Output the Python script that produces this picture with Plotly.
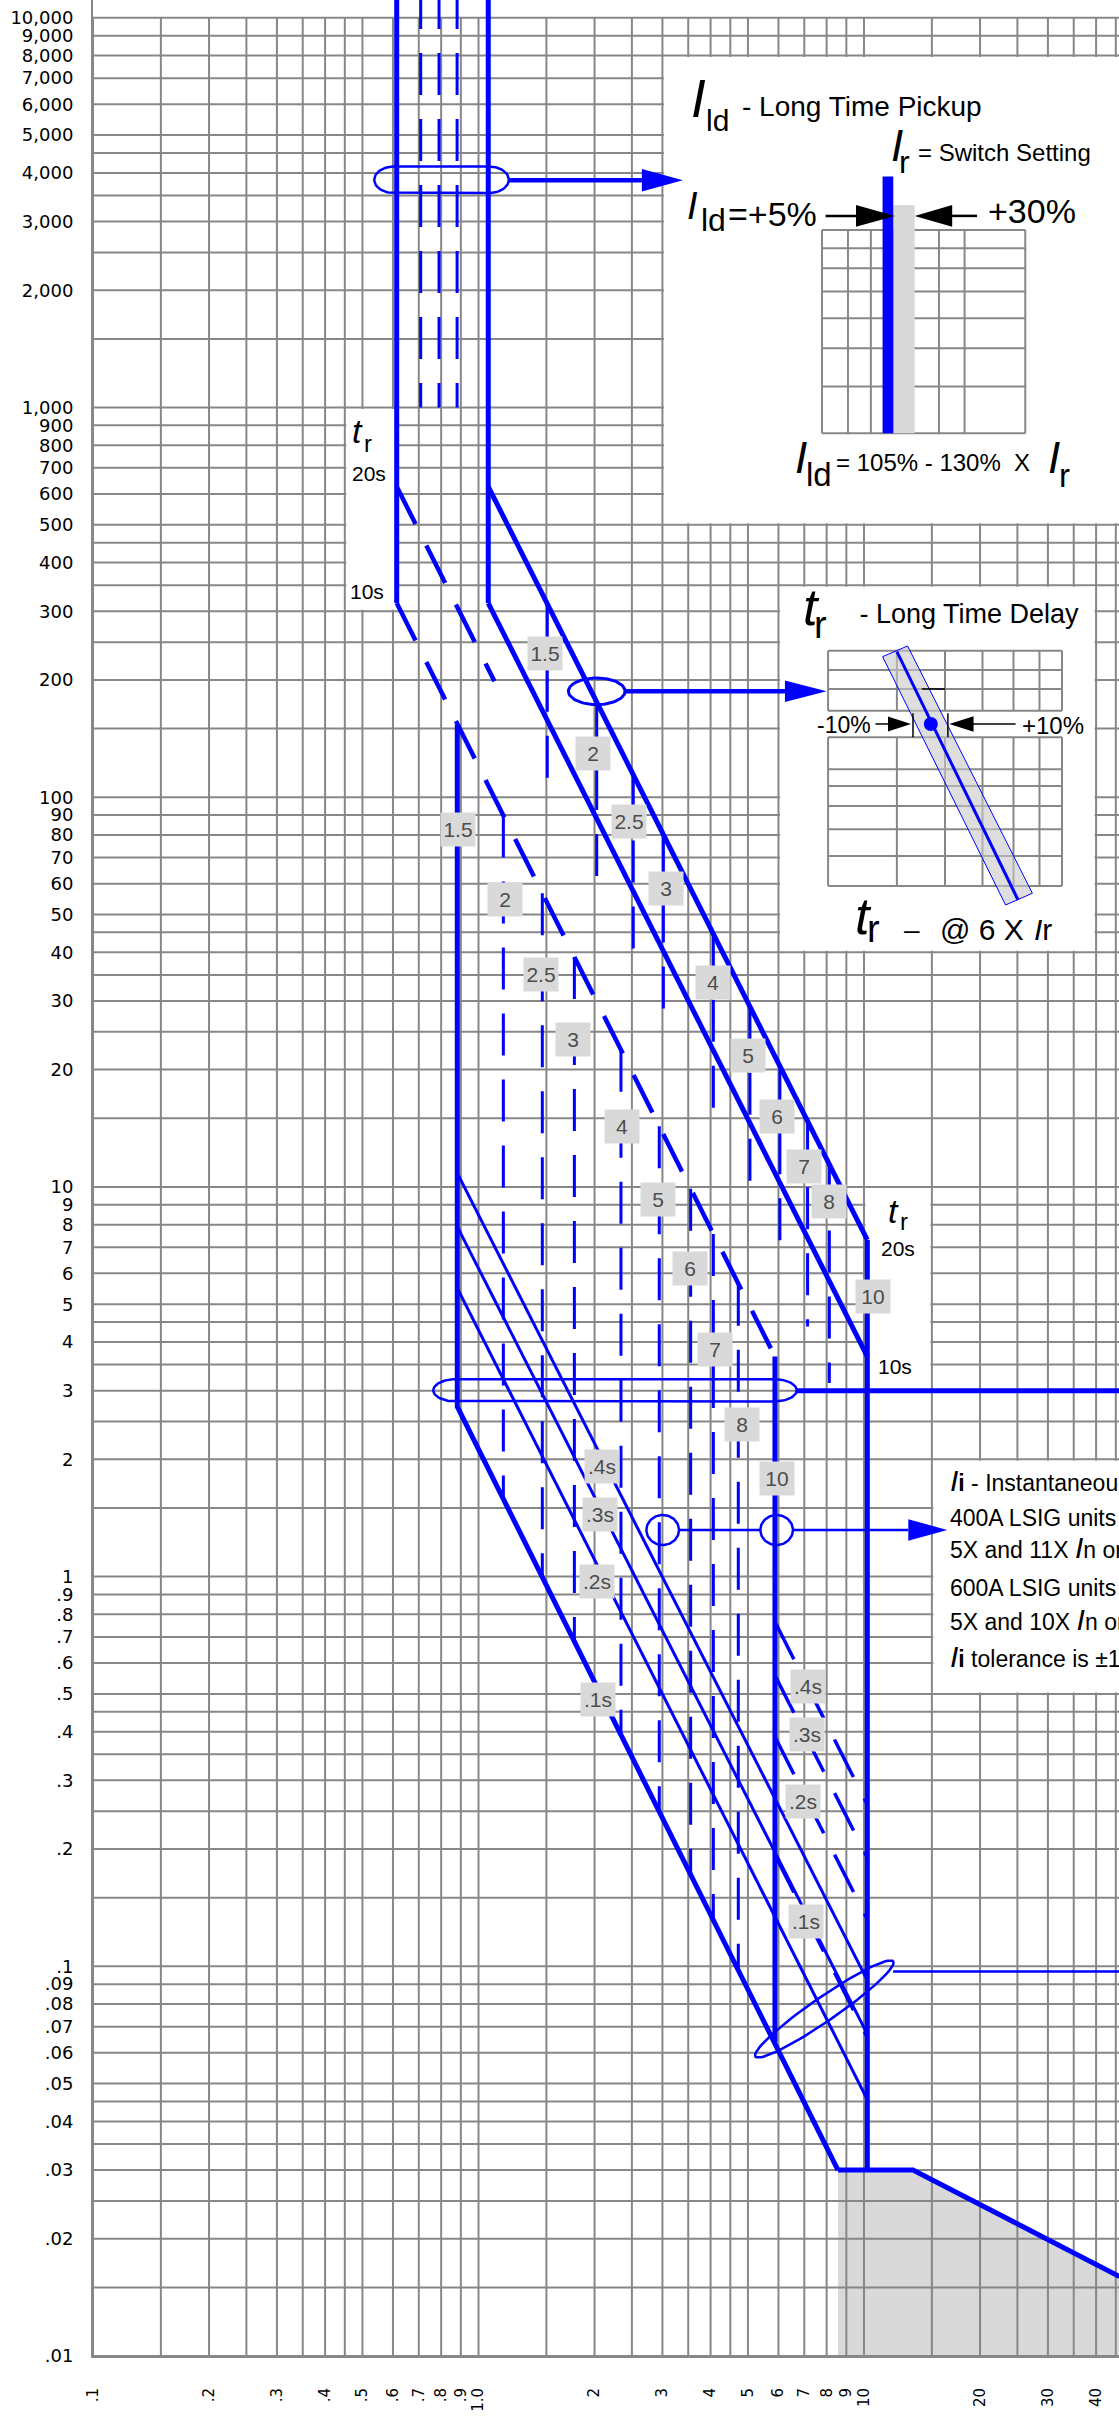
import math
import plotly.graph_objects as go

# ------------------------------------------------------------------ styling
BLUE = "#0000ff"
GRID = "#878787"
SHADE = "#d9d9d9"
TAG_TEXT = "#4d4d4d"
SANS = "Liberation Sans, Arial, sans-serif"
AXIS_FONT = "DejaVu Sans, Verdana, sans-serif"
DASH = "42px,24px"

FIG_W, FIG_H = 1119, 2416
M_L, M_B = 93, 60
X_RANGE = [-1.0, 1.6615]      # log10 of current (multiples)
Y_RANGE = [-2.0, 4.0457]      # log10 of time (seconds)
PX_X = (FIG_W - M_L) / (X_RANGE[1] - X_RANGE[0])   # pixels per decade
PX_Y = (FIG_H - M_B) / (Y_RANGE[1] - Y_RANGE[0])

# ------------------------------------------------------------------ axes
X_TICK_VALS = [0.1, 0.2, 0.3, 0.4, 0.5, 0.6, 0.7, 0.8, 0.9, 1, 2, 3, 4, 5, 6, 7, 8, 9,
               10, 20, 30, 40]
X_TICK_TEXT = [".1", ".2", ".3", ".4", ".5", ".6", ".7", ".8", ".9", "1.0", "2", "3", "4",
               "5", "6", "7", "8", "9", "10", "20", "30", "40"]
Y_TICK_VALS = [0.01, 0.02, 0.03, 0.04, 0.05, 0.06, 0.07, 0.08, 0.09,
               0.1, 0.2, 0.3, 0.4, 0.5, 0.6, 0.7, 0.8, 0.9,
               1, 2, 3, 4, 5, 6, 7, 8, 9,
               10, 20, 30, 40, 50, 60, 70, 80, 90,
               100, 200, 300, 400, 500, 600, 700, 800, 900,
               1000, 2000, 3000, 4000, 5000, 6000, 7000, 8000, 9000, 10000]
Y_TICK_TEXT = [".01", ".02", ".03", ".04", ".05", ".06", ".07", ".08", ".09",
               ".1", ".2", ".3", ".4", ".5", ".6", ".7", ".8", ".9",
               "1", "2", "3", "4", "5", "6", "7", "8", "9",
               "10", "20", "30", "40", "50", "60", "70", "80", "90",
               "100", "200", "300", "400", "500", "600", "700", "800", "900",
               "1,000", "2,000", "3,000", "4,000", "5,000", "6,000", "7,000", "8,000",
               "9,000", "10,000"]
GRID_STEPS = [1, 1.5, 2, 2.5, 3, 3.5, 4, 4.5, 5, 6, 7, 8, 9]
X_DECADES = [0.1, 1, 10]
Y_DECADES = [0.01, 0.1, 1, 10, 100, 1000]

# ------------------------------------------------------------------ curve data
# long-time pickup (min / max of band) and intermediate settings
LTPU_I = [0.6135, 1.06]
LTPU_T = [12000, 315]
LTPU_MID_I = [0.708, 0.79, 0.88]
LTPU_MID_T = [12000, 1000]

# long-time delay lines (end points)
LT_LOW_10S_I, LT_LOW_10S_T = [0.6135, 5.875], [315, 3.67]
LT_LOW_20S_I, LT_LOW_20S_T = [0.6135, 1.10], [627, 198.5]
LT_HIGH_20S_I, LT_HIGH_20S_T = [1.06, 10.2], [627, 7.31]
LT_HIGH_10S_I, LT_HIGH_10S_T = [1.06, 10.2], [315, 3.67]

# lower boundary: 1.5 x pickup, .1s ramp, instantaneous
LOW_EDGE_I = [0.881, 0.881, 8.56]
LOW_EDGE_T = [153.4, 2.73, 0.030]
INST_I = [8.56, 13.4, 46.0]
INST_T = [0.030, 0.030, 0.016]

# short-time pickup 10x verticals
ST10_LOW_I, ST10_LOW_T = [5.875, 5.875], [3.67, 0.0638]
ST10_HIGH_I, ST10_HIGH_T = [10.2, 10.2], [7.31, 0.030]

# short-time pickup settings (dashed verticals)
STP_LOW_I = [1.16, 1.464, 1.773, 2.342, 2.944, 3.551, 4.066, 4.72]
STP_LOW_T_TOP = [89.7, 56.7, 38.9, 22.5, 14.3, 9.89, 7.57, 5.64]
STP_LOW_T_BOT = [1.584, 0.999, 0.684, 0.394, 0.2506, 0.1728, 0.1322, 0.0984]
STP_HIGH_I = [1.508, 2.026, 2.52, 3.017, 4.066, 5.06, 6.05, 7.14, 8.13]
STP_HIGH_T_TOP = [313.6, 175.4, 114.3, 80.2, 44.6, 29.0, 20.4, 14.75, 11.42]
STP_HIGH_T_BOT = [106.6, 59.6, 38.8, 27.2, 15.1, 9.82, 6.9, 4.38, 3.14]

# short-time delay ramps (.4s, .3s, .2s)
RAMP_LOW_I = [0.881, 10.2]
RAMP_LOW_T0 = [10.85, 7.91, 5.50]
RAMP_LOW_T1 = [0.092, 0.067, 0.0455]
RAMP_HIGH_I = [5.875, 10.2]
RAMP_HIGH_T0 = [0.766, 0.558, 0.388, 0.193]
RAMP_HIGH_T1 = [0.260, 0.190, 0.132, 0.0656]

# setting tags
ST_TAGS = ["1.5", "2", "2.5", "3", "4", "5", "6", "7", "8", "10"]
LOW_TAG_I = [0.886, 1.171, 1.45, 1.755, 2.356, 2.927, 3.537, 4.107, 4.816, 5.935]
LOW_TAG_T = [82.5, 54.5, 35.0, 23.9, 14.3, 9.27, 6.19, 3.82, 2.45, 1.79]
HIGH_TAG_I = [1.488, 1.985, 2.461, 3.064, 4.066, 5.01, 5.935, 6.99, 8.13, 10.57]
HIGH_TAG_T = [234, 129.8, 86.6, 58.4, 33.5, 21.8, 15.2, 11.3, 9.2, 5.24]
DELAY_TAGS = [".4s", ".3s", ".2s", ".1s"]
LOW_DELAY_I = [2.087, 2.067, 2.033, 2.045]
LOW_DELAY_T = [1.917, 1.441, 0.971, 0.483]
HIGH_DELAY_I = [7.14, 7.10, 6.96, 7.07]
HIGH_DELAY_T = [0.522, 0.393, 0.265, 0.130]

# callouts (centres in axis units)
LD_RING = (0.802, 3840)
LD_ARROW_TIP = (3.39, 3830)
TR_RING = (2.026, 187)
TR_ARROW_TIP = (8.0, 187)
ST_RING = (2.26, 3.006)
ST_LINE_T = 3.0
II_RINGS = [(3.005, 1.317), (5.935, 1.317)]
II_ARROW_TIP = (16.45, 1.317)
INST_RING = (7.89, 0.0777)
INST_LINE = (11.9, 0.097)

# white panels behind the notes: (I0, I1, t0, t1)
PANELS = [(3.0, 100, 500, 8000), (6.0, 40, 40, 350), (15, 100, 0.5, 2.0),
          (0.45, 0.6135, 300, 1000), (10.0, 15, 3.0, 10)]

# inset anchors (axis units)
LD_ANCHOR = (7.78, 2856)
TR_ANCHOR = (8.07, 237.7)
II_ANCHOR = (16.45, 1.317)

fig = go.Figure()


def shift(p, dx, dy):
    """Move an (I, t) point by screen pixels; dy grows downwards."""
    return p[0] * 10 ** (dx / PX_X), p[1] * 10 ** (-dy / PX_Y)


def add_path(xs, ys, width, color=BLUE, dash="solid"):
    fig.add_trace(go.Scatter(x=xs, y=ys, mode="lines",
                             line=dict(color=color, width=width, dash=dash),
                             hoverinfo="skip", showlegend=False))


def add_area(xs, ys, color, edge=None, edge_width=0):
    fig.add_trace(go.Scatter(x=xs, y=ys, mode="lines", fill="toself", fillcolor=color,
                             line=dict(color=edge or color, width=edge_width),
                             hoverinfo="skip", showlegend=False))


def join(segments):
    xs, ys = [], []
    for seg in segments:
        for p in seg:
            xs.append(p[0])
            ys.append(p[1])
        xs.append(None)
        ys.append(None)
    return xs, ys


def ring(center, half_w, half_h, cap, angle=0.0, n=40):
    local = []
    for k in range(n + 1):
        a = -math.pi / 2 + math.pi * k / n
        local.append((half_w - cap + cap * math.cos(a), half_h * math.sin(a)))
    for k in range(n + 1):
        a = math.pi / 2 + math.pi * k / n
        local.append((-(half_w - cap) + cap * math.cos(a), half_h * math.sin(a)))
    local.append(local[0])
    ca, sa = math.cos(math.radians(angle)), math.sin(math.radians(angle))
    pts = [shift(center, x * ca - y * sa, x * sa + y * ca) for x, y in local]
    return [p[0] for p in pts], [p[1] for p in pts]


def head(tip, length, half, pointing="right"):
    s = -1 if pointing == "right" else 1
    pts = [tip, shift(tip, s * length, -half), shift(tip, s * length, half), tip]
    return [p[0] for p in pts], [p[1] for p in pts]


def inset_pts(anchor, offsets):
    pts = [shift(anchor, dx, dy) for dx, dy in offsets]
    return [p[0] for p in pts], [p[1] for p in pts]


def note(p, text, size, xanchor="center", color="black", family=SANS):
    fig.add_annotation(x=math.log10(p[0]), y=math.log10(p[1]), text=text, showarrow=False,
                       xanchor=xanchor, yanchor="middle",
                       font=dict(size=size, color=color, family=family))


def inset_note(anchor, dx, dy, text, size, xanchor="center"):
    note(shift(anchor, dx, dy), text, size, xanchor)


def tag(i, t, text):
    fig.add_annotation(x=math.log10(i), y=math.log10(t), text=text, showarrow=False,
                       xanchor="center", yanchor="middle", bgcolor=SHADE, borderpad=0,
                       width=34, height=33,
                       font=dict(size=21, color=TAG_TEXT, family=SANS))


# ------------------------------------------------------------------ shaded zone
add_area(INST_I + [INST_I[-1], INST_I[0]], INST_T + [0.009, 0.009], SHADE)

# ------------------------------------------------------------------ grid
grid_x = [m * d for d in X_DECADES for m in GRID_STEPS if m * d < 46]
grid_y = [m * d for d in Y_DECADES for m in GRID_STEPS] + [10000]
gx, gy = join([[(x, 0.01), (x, 10000)] for x in grid_x])
add_path(gx, gy, 2, GRID)
gx, gy = join([[(0.1, y), (60, y)] for y in grid_y])
add_path(gx, gy, 2, GRID)

# ------------------------------------------------------------------ note panels
for i0, i1, t0, t1 in PANELS:
    a = shift((i0, t1), 1.5, 1.5)
    b = shift((i1, t0), -1.5, -1.5)
    add_area([a[0], b[0], b[0], a[0], a[0]], [a[1], a[1], b[1], b[1], a[1]], "white")

# ------------------------------------------------------------------ curves
# intermediate long-time pickups
xs, ys = join([[(i, LTPU_MID_T[0]), (i, LTPU_MID_T[1])] for i in LTPU_MID_I])
add_path(xs, ys, 3, dash=DASH)

# short-time pickup settings
xs, ys = join([[(i, a), (i, b)] for i, a, b in zip(STP_LOW_I, STP_LOW_T_TOP, STP_LOW_T_BOT)])
add_path(xs, ys, 3, dash=DASH)
xs, ys = join([[(i, a), (i, b)] for i, a, b in zip(STP_HIGH_I, STP_HIGH_T_TOP, STP_HIGH_T_BOT)])
add_path(xs, ys, 3, dash=DASH)

# short-time delay ramps
xs, ys = join([[(RAMP_LOW_I[0], a), (RAMP_LOW_I[1], b)] for a, b in zip(RAMP_LOW_T0, RAMP_LOW_T1)])
add_path(xs, ys, 3)
xs, ys = join([[(RAMP_HIGH_I[0], a), (RAMP_HIGH_I[1], b)] for a, b in zip(RAMP_HIGH_T0, RAMP_HIGH_T1)])
add_path(xs, ys, 3.5, dash=DASH)

# long-time delay band (lower side dashed)
add_path(LT_LOW_10S_I, LT_LOW_10S_T, 4.5, dash=DASH)
add_path(LT_LOW_20S_I, LT_LOW_20S_T, 4.5, dash=DASH)

# solid outline
for i in LTPU_I:
    add_path([i, i], LTPU_T, 5)
add_path(LT_HIGH_20S_I, LT_HIGH_20S_T, 5)
add_path(LT_HIGH_10S_I, LT_HIGH_10S_T, 5)
add_path(LOW_EDGE_I, LOW_EDGE_T, 5)
add_path(INST_I, INST_T, 5)
add_path(ST10_LOW_I, ST10_LOW_T, 5)
add_path(ST10_HIGH_I, ST10_HIGH_T, 5)

# ------------------------------------------------------------------ callouts
rx, ry = ring(LD_RING, 67.3, 13.3, 20)
add_path(rx, ry, 2.5)
start = shift(LD_RING, 67.3, 0)
add_path([start[0], shift(LD_ARROW_TIP, -41, 0)[0]], [LD_ARROW_TIP[1]] * 2, 4.5)
hx, hy = head(LD_ARROW_TIP, 41, 11.3)
add_area(hx, hy, BLUE)

rx, ry = ring(TR_RING, 28.3, 13.3, 28.3)
add_path(rx, ry, 3)
start = shift(TR_RING, 28.3, 0)
add_path([start[0], shift(TR_ARROW_TIP, -41.7, 0)[0]], [TR_ARROW_TIP[1]] * 2, 4.5)
hx, hy = head(TR_ARROW_TIP, 41.7, 10.8)
add_area(hx, hy, BLUE)

rx, ry = ring(ST_RING, 181.7, 11.2, 23)
add_path(rx, ry, 2.5)
start = shift(ST_RING, 181.7, 0)
add_path([start[0], 100], [ST_LINE_T, ST_LINE_T], 5)

for c in II_RINGS:
    rx, ry = ring(c, 16.3, 15, 16.3)
    add_path(rx, ry, 2.5)
p1 = shift(II_RINGS[0], 16.3, 0)
p2 = shift(II_RINGS[1], -16.3, 0)
p3 = shift(II_RINGS[1], 16.3, 0)
p4 = shift(II_ARROW_TIP, -39, 0)
xs, ys = join([[p1, p2], [p3, (p4[0], p3[1])]])
add_path(xs, ys, 2.5)
hx, hy = head(II_ARROW_TIP, 39, 10.7)
add_area(hx, hy, BLUE)

rx, ry = ring(INST_RING, 83.7, 12, 83.7, angle=-34.6)
add_path(rx, ry, 2.5)
add_path([INST_LINE[0], 100], [INST_LINE[1]] * 2, 2.5)

# ------------------------------------------------------------------ I_ld inset
LD_GRID_DX = [0, 26, 48.9, 71.3, 117, 142.6, 203.3]
LD_GRID_DY = [0, 18.3, 38.3, 61.7, 88.3, 118.3, 156.7, 203.3]
segs = [[shift(LD_ANCHOR, dx, 0), shift(LD_ANCHOR, dx, 203.3)] for dx in LD_GRID_DX]
segs += [[shift(LD_ANCHOR, 0, dy), shift(LD_ANCHOR, 203.3, dy)] for dy in LD_GRID_DY]
xs, ys = join(segs)
add_path(xs, ys, 2, GRID)
bx, by = inset_pts(LD_ANCHOR, [(71.3, -25), (92.7, -25), (92.7, 203.3), (71.3, 203.3), (71.3, -25)])
add_area(bx, by, SHADE)
bx, by = inset_pts(LD_ANCHOR, [(60.6, -53.3), (71.3, -53.3), (71.3, 203.3), (60.6, 203.3), (60.6, -53.3)])
add_area(bx, by, BLUE)
xs, ys = inset_pts(LD_ANCHOR, [(3.6, -14), (36, -14)])
add_path(xs, ys, 2.5, "black")
hx, hy = head(shift(LD_ANCHOR, 73, -14), 39, 10.8)
add_area(hx, hy, "black")
xs, ys = inset_pts(LD_ANCHOR, [(128, -14), (155.1, -14)])
add_path(xs, ys, 2.5, "black")
hx, hy = head(shift(LD_ANCHOR, 92.7, -14), 37.5, 10.8, "left")
add_area(hx, hy, "black")

inset_note(LD_ANCHOR, -123, -131, "<i>I</i>", 53)
inset_note(LD_ANCHOR, -117.6, -109, "ld", 30, "left")
inset_note(LD_ANCHOR, -82, -123.4, "- Long Time Pickup", 28, "left")
inset_note(LD_ANCHOR, 75, -84, "<i>I</i>", 44)
inset_note(LD_ANCHOR, 83, -68, "r", 32)
inset_note(LD_ANCHOR, 94.5, -77, "= Switch Setting", 24, "left")
inset_note(LD_ANCHOR, -129, -24, "<i>I</i>", 38)
inset_note(LD_ANCHOR, -123, -10, "ld", 32, "left")
inset_note(LD_ANCHOR, -96.2, -15.5, "=+5%", 34, "left")
inset_note(LD_ANCHOR, 164, -19, "+30%", 34, "left")
inset_note(LD_ANCHOR, -21.4, 227.5, "<i>I</i>", 44)
inset_note(LD_ANCHOR, -18, 244.8, "ld", 33, "left")
inset_note(LD_ANCHOR, 12.5, 233, "= 105% - 130%  X", 24, "left")
inset_note(LD_ANCHOR, 231.8, 227.5, "<i>I</i>", 44)
inset_note(LD_ANCHOR, 242.4, 246, "r", 33)

# ------------------------------------------------------------------ t_r inset
TR_GRID_DX = [0, 68.8, 116.9, 154.4, 185.4, 211.4, 233.9]
TR_GRID_DY_UP = [0, 19.3, 38.3, 60]
TR_GRID_DY_LOW = [86.6, 118.6, 135.3, 155.3, 178.6, 205.3, 235.3]
segs = []
for dx in TR_GRID_DX:
    segs.append([shift(TR_ANCHOR, dx, 0), shift(TR_ANCHOR, dx, 60)])
    segs.append([shift(TR_ANCHOR, dx, 86.6), shift(TR_ANCHOR, dx, 235.3)])
for dy in TR_GRID_DY_UP + TR_GRID_DY_LOW:
    segs.append([shift(TR_ANCHOR, 0, dy), shift(TR_ANCHOR, 233.9, dy)])
xs, ys = join(segs)
add_path(xs, ys, 2, GRID)
bx, by = inset_pts(TR_ANCHOR, [(54.5, 6), (79.5, -4.7), (204.3, 242.6), (177.5, 254.3), (54.5, 6)])
add_area(bx, by, "rgba(200,200,200,0.6)", BLUE, 1)
xs, ys = inset_pts(TR_ANCHOR, [(68.8, 1), (190, 249.3)])
add_path(xs, ys, 3)
dot = shift(TR_ANCHOR, 102.7, 73.3)
fig.add_trace(go.Scatter(x=[dot[0]], y=[dot[1]], mode="markers",
                         marker=dict(color=BLUE, size=14), hoverinfo="skip", showlegend=False))
xs, ys = join([[shift(TR_ANCHOR, 93.8, 38.3), shift(TR_ANCHOR, 116.9, 38.3)],
               [shift(TR_ANCHOR, 47.4, 73.3), shift(TR_ANCHOR, 61, 73.3)],
               [shift(TR_ANCHOR, 84.9, 62.6), shift(TR_ANCHOR, 84.9, 86.6)],
               [shift(TR_ANCHOR, 119.8, 62.6), shift(TR_ANCHOR, 119.8, 86.6)],
               [shift(TR_ANCHOR, 144.5, 73.3), shift(TR_ANCHOR, 187.5, 73.3)]])
add_path(xs, ys, 1.5, "black")
hx, hy = head(shift(TR_ANCHOR, 82.9, 73.3), 23, 7.5)
add_area(hx, hy, "black")
hx, hy = head(shift(TR_ANCHOR, 121.2, 73.3), 24.3, 7.8, "left")
add_area(hx, hy, "black")

inset_note(TR_ANCHOR, -16.1, -43.7, "<i>t</i>", 52)
inset_note(TR_ANCHOR, -7.1, -26, "r", 38)
inset_note(TR_ANCHOR, 22.4, -36.7, " - Long Time Delay", 27, "left")
inset_note(TR_ANCHOR, -13.1, 74.6, "-10%", 23, "left")
inset_note(TR_ANCHOR, 191.9, 74.6, "+10%", 24, "left")
inset_note(TR_ANCHOR, 35.9, 265.3, "<i>t</i>", 52)
inset_note(TR_ANCHOR, 45.6, 278, "r", 38)
inset_note(TR_ANCHOR, 83.9, 279.3, "\u2013", 28)
inset_note(TR_ANCHOR, 109.9, 278.9, "@ 6 X", 30, "left")
inset_note(TR_ANCHOR, 204.3, 278.9, "<i>I</i>r", 30, "left")

# ------------------------------------------------------------------ I_i note
BIG_I = "<span style='font-size:30px'><i>I</i></span>"
II_LINES = [BIG_I + "<b>i</b> - Instantaneous Pickup",
            "400A LSIG units are adjustable from",
            "5X and 11X " + BIG_I + "n or OFF",
            "600A LSIG units are adjustable from",
            "5X and 10X " + BIG_I + "n or OFF",
            BIG_I + "<b>i</b> tolerance is \u00b110%"]
II_DY = [-49.6, -12, 17, 58, 89.5, 126]
for text, dy in zip(II_LINES, II_DY):
    inset_note(II_ANCHOR, 1, dy, text, 23, "left")

# ------------------------------------------------------------------ t_r band labels
note((0.484, 872), "<i>t</i>", 34)
note((0.5175, 810), "r", 24)
note((0.519, 679), "20s", 21)
note((0.514, 337), "10s", 21)
note((11.96, 8.68), "<i>t</i>", 34)
note((12.7, 8.14), "r", 24)
note((12.27, 6.97), "20s", 21)
note((12.07, 3.47), "10s", 21)

# ------------------------------------------------------------------ setting tags
for lab, i, t in zip(ST_TAGS, LOW_TAG_I, LOW_TAG_T):
    tag(i, t, lab)
for lab, i, t in zip(ST_TAGS, HIGH_TAG_I, HIGH_TAG_T):
    tag(i, t, lab)
for lab, i, t in zip(DELAY_TAGS, LOW_DELAY_I, LOW_DELAY_T):
    tag(i, t, lab)
for lab, i, t in zip(DELAY_TAGS, HIGH_DELAY_I, HIGH_DELAY_T):
    tag(i, t, lab)

# ------------------------------------------------------------------ layout
fig.update_layout(
    width=FIG_W, height=FIG_H,
    margin=dict(l=M_L, r=0, t=0, b=M_B, autoexpand=False),
    plot_bgcolor="white", paper_bgcolor="white",
    showlegend=False,
    xaxis=dict(type="log", range=X_RANGE, showgrid=False, zeroline=False,
               tickmode="array", tickvals=X_TICK_VALS, ticktext=X_TICK_TEXT,
               tickangle=-90, ticks="", ticklabelstandoff=24,
               tickfont=dict(family=AXIS_FONT, size=15, color="black"),
               showline=True, linecolor=GRID, linewidth=2, automargin=False,
               fixedrange=True),
    yaxis=dict(type="log", range=Y_RANGE, showgrid=False, zeroline=False,
               tickmode="array", tickvals=Y_TICK_VALS, ticktext=Y_TICK_TEXT,
               ticks="", ticklabelstandoff=14,
               tickfont=dict(family=AXIS_FONT, size=18, color="black"),
               showline=True, linecolor=GRID, linewidth=2, automargin=False,
               fixedrange=True),
)

fig.write_html("out.html")
